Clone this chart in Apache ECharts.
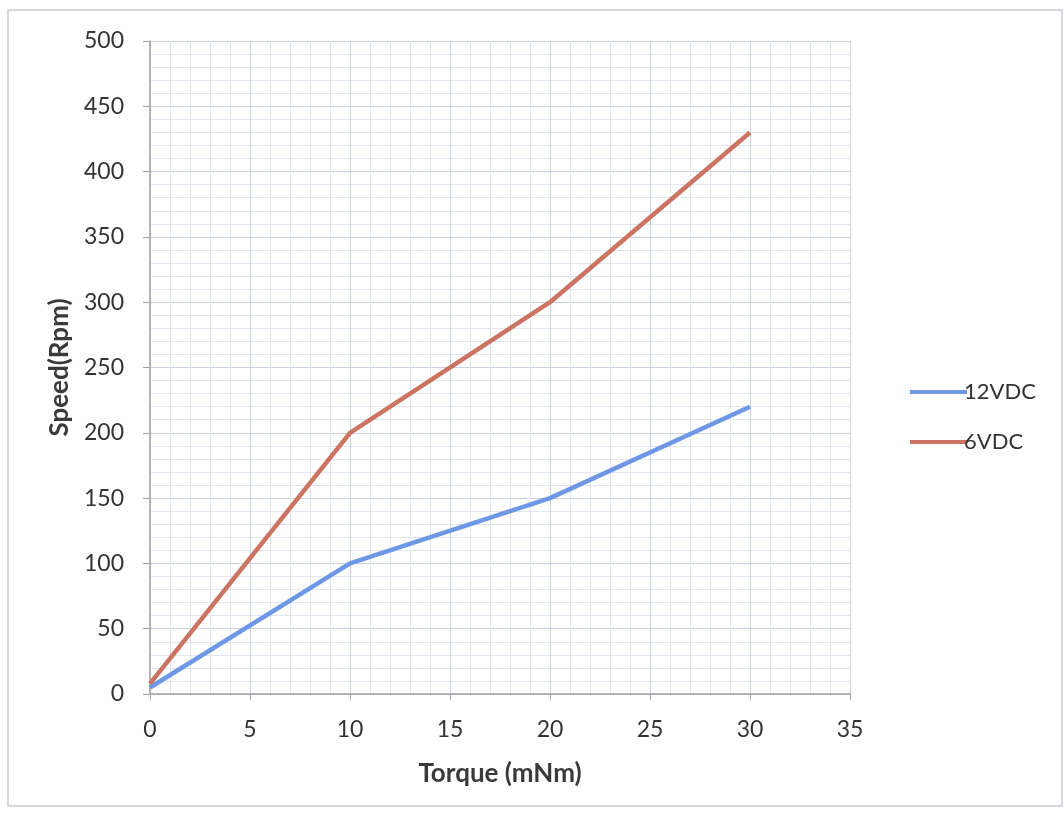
<!DOCTYPE html>
<html><head><meta charset="utf-8">
<script src="https://cdn.jsdelivr.net/npm/echarts@6/dist/echarts.min.js"></script>
<style>html,body{margin:0;padding:0;background:#fff}#c{width:1064px;height:814px}</style>
</head><body><div id="c"></div>
<script>
const torque = [0, 10, 20, 30];
const speed12 = [5, 100, 150, 220];
const speed6 = [8, 200, 300, 430];
const seriesNames = ['12VDC', '6VDC'];

const chart = echarts.init(document.getElementById('c'));
const font = 'Lato, "Open Sans", sans-serif';
chart.setOption({
  animation: false,
  backgroundColor: '#fff',
  graphic: [{type: 'rect', shape: {x: 8, y: 10, width: 1054, height: 796}, style: {fill: 'none', stroke: '#c9ccd4', lineWidth: 1.5}, silent: true}],
  grid: {left: 150, right: 214, top: 41, bottom: 120},
  legend: {
    orient: 'vertical', left: 905, top: 376, itemGap: 28, itemWidth: 57, itemHeight: 4,
    icon: 'rect', data: seriesNames,
    textStyle: {fontFamily: font, fontSize: 22, color: '#333', padding: [0, 0, 0, -8]}
  },
  xAxis: {
    type: 'value', min: 0, max: 35, interval: 5,
    name: 'Torque (mNm)', nameLocation: 'middle', nameGap: 67,
    nameTextStyle: {fontFamily: font, fontSize: 26, fontWeight: 'bold', color: '#3a3a3a', verticalAlign: 'top'},
    axisLine: {show: true, lineStyle: {color: '#a0a0a0', width: 1.5}},
    axisTick: {show: true, length: 6, lineStyle: {color: '#a0a0a0'}},
    axisLabel: {fontFamily: font, fontSize: 23, color: '#333', margin: 24},
    splitLine: {show: true, lineStyle: {color: '#c9d1e2', width: 1}},
    minorTick: {show: false, splitNumber: 5},
    minorSplitLine: {show: true, lineStyle: {color: '#e1e6f1', width: 1}}
  },
  yAxis: {
    type: 'value', min: 0, max: 500, interval: 50,
    name: 'Speed(Rpm)', nameLocation: 'middle', nameGap: 76, nameRotate: 90,
    nameTextStyle: {fontFamily: font, fontSize: 26, fontWeight: 'bold', color: '#3a3a3a'},
    axisLine: {show: true, lineStyle: {color: '#a0a0a0', width: 1.5}},
    axisTick: {show: true, length: 7, lineStyle: {color: '#a0a0a0'}},
    axisLabel: {fontFamily: font, fontSize: 23, color: '#333', margin: 26},
    splitLine: {show: true, lineStyle: {color: '#c9d1e2', width: 1}},
    minorTick: {show: false, splitNumber: 5},
    minorSplitLine: {show: true, lineStyle: {color: '#e1e6f1', width: 1}}
  },
  series: [
    {name: seriesNames[0], type: 'line', data: torque.map((t, i) => [t, speed12[i]]), showSymbol: false, symbol: 'none',
     lineStyle: {color: '#6e98e6', width: 4.5}, itemStyle: {color: '#6e98e6'}},
    {name: seriesNames[1], type: 'line', data: torque.map((t, i) => [t, speed6[i]]), showSymbol: false, symbol: 'none',
     lineStyle: {color: '#cc7462', width: 4.5}, itemStyle: {color: '#cc7462'}}
  ]
});
</script></body></html>
